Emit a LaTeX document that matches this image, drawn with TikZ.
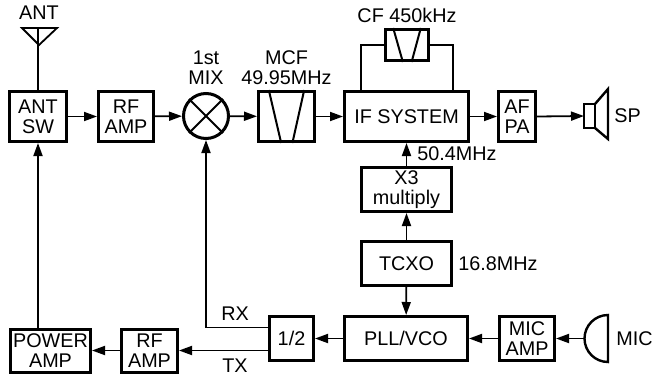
\documentclass[tikz,border=0pt]{standalone}
\usepackage{fontspec}
\setmainfont{Liberation Sans}
\usetikzlibrary{arrows.meta,calc}

\tikzset{
 blk/.style={draw,line width=1.5pt,inner sep=0pt,align=center,minimum height=25pt},
 wire/.style={line width=0.9pt},
 sig/.style={wire,-{Triangle[length=6.5pt,width=4.5pt]}},
 lbl/.style={inner sep=0pt,align=center},
}

\begin{document}
\begin{tikzpicture}[x=0.5pt,y=-0.5pt,font=\fontsize{9.9}{10}\selectfont]
 \useasboundingbox (0,0) rectangle (652,375);
 % receive chain
 \node[blk,minimum width=28.5pt] (antsw) at (38,116.5) {ANT\\SW};
 \node[blk,minimum width=27.5pt] (rfamp) at (126,116.5) {RF\\AMP};
 \node[draw,circle,line width=1.5pt,minimum size=22.5pt,inner sep=0pt] (mix) at (206,116) {};
 \node[blk,minimum width=28pt] (mcf) at (286.5,116.5) {};
 \node[blk,minimum width=62pt] (ifsys) at (406.5,116.5) {IF SYSTEM};
 \node[blk,minimum width=18.5pt] (afpa) at (517,116.5) {AF\\PA};
 \node[blk,minimum width=21.5pt,minimum height=15.5pt] (cf) at (407,45) {};
 % local oscillator
 \node[blk,minimum width=45pt,minimum height=22pt] (xthree) at (406.5,189.5) {X3\\multiply};
 \node[blk,minimum width=45pt,minimum height=22pt] (tcxo) at (406.5,263.5) {TCXO};
 % transmit chain
 \node[blk,minimum width=61.5pt,minimum height=22pt] (pll) at (406,338.5) {PLL/VCO};
 \node[blk,minimum width=27.5pt,minimum height=22pt] (micamp) at (527,338.5) {MIC\\AMP};
 \node[blk,minimum width=22pt,minimum height=22pt] (half) at (291.5,338.5) {1/2};
 \node[blk,minimum width=28pt,minimum height=21.5pt] (txamp) at (149.5,350.5) {RF\\AMP};
 \node[blk,minimum width=40pt,minimum height=21.5pt] (pwramp) at (50.5,350.5) {POWER\\AMP};

 % mixer cross and filter marks
 \draw[line width=1pt] (mix.north west)--(mix.south east) (mix.north east)--(mix.south west);
 \foreach \f in {mcf,cf}{
  \draw[line width=1pt] ($(\f.north west)!0.2!(\f.north east)$)--($(\f.south west)!0.41!(\f.south east)$);
  \draw[line width=1pt] ($(\f.north west)!0.8!(\f.north east)$)--($(\f.south west)!0.6!(\f.south east)$);
 }

 % antenna, speaker, microphone
 \coordinate (ant) at (39,28);
 \draw[wire] (antsw.north)--(antsw.north |- ant);
 \draw[wire] (22,28)--(57,28)--(39,45)--cycle;
 \draw[line width=1.2pt] (584,104) rectangle (595,128);
 \draw[line width=1.2pt] (595,104)--(608,89)--(608,139)--(595,128);
 \coordinate (sp) at (584,116);
 \draw[line width=1.2pt] (608,315) arc[start angle=90,end angle=270,radius=11.75pt]--cycle;
 \coordinate (mic) at (585,338.5);

 % labels
 \node[lbl] (antlbl) at (39,13) {ANT};
 \node[lbl] (mixlbl) at (206,68) {1st\\MIX};
 \node[lbl] (mcflbl) at (286.5,68) {MCF\\49.95MHz};
 \node[lbl] (cflbl) at (407,15) {CF 450kHz};
 \node[lbl,anchor=west] (lofreq) at (417,154) {50.4MHz};
 \node[lbl,anchor=west] (xofreq) at (458,264) {16.8MHz};
 \node[lbl] (rxlbl) at (235,314) {RX};
 \node[lbl] (txlbl) at (235,366) {TX};
 \node[lbl,anchor=west] (splbl) at (614,116) {SP};
 \node[lbl,anchor=west] (miclbl) at (616,338.5) {MIC};

 % signal flow
 \draw[sig] (antsw)--(rfamp);
 \draw[sig] (rfamp)--(mix);
 \draw[sig] (mix)--(mcf);
 \draw[sig] (mcf)--(ifsys);
 \draw[sig] (ifsys)--(afpa);
 \draw[sig] (afpa.east)--(sp);
 \draw[wire] ([xshift=9pt]ifsys.north west) |- (cf.west);
 \draw[wire] ([xshift=-8.5pt]ifsys.north east) |- (cf.east);
 \draw[sig] (xthree)--(ifsys);
 \draw[sig] (tcxo)--(xthree);
 \draw[sig] (tcxo)--(pll);
 \draw[sig] (mic)--(micamp);
 \draw[sig] (micamp)--(pll);
 \draw[sig] (pll)--(half);
 \draw[sig] ([yshift=5.5pt]half.west) -| (mix.south);
 \draw[sig] ([yshift=-6pt]half.west)--(txamp.east);
 \draw[sig] (txamp)--(pwramp);
 \draw[sig] (antsw.south |- pwramp.north)--(antsw.south);
\end{tikzpicture}
\end{document}
